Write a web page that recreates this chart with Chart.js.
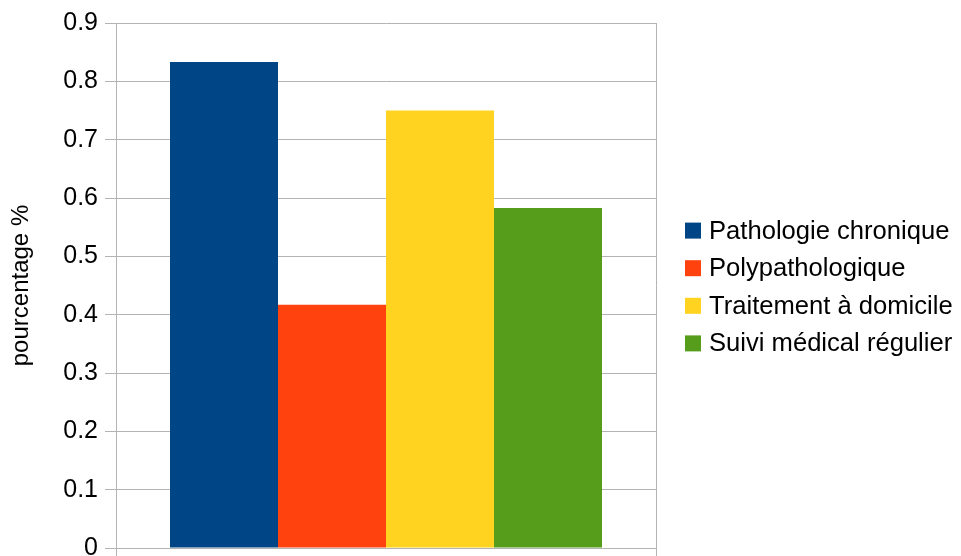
<!DOCTYPE html>
<html lang="fr">
<head>
<meta charset="utf-8">
<title>pourcentage %</title>
<script src="https://cdn.jsdelivr.net/npm/chart.js@4/dist/chart.umd.min.js"></script>
<style>
  html, body { margin: 0; padding: 0; overflow: hidden; background: #ffffff; }
  #wrap { position: relative; width: 961px; height: 600px; }
</style>
</head>
<body>
<div id="wrap"><canvas id="chart"></canvas></div>
<script>
// Chart data
const categories = [''];
const seriesLabels = ['Pathologie chronique', 'Polypathologique', 'Traitement à domicile', 'Suivi médical régulier'];
const seriesValues = [0.833, 0.417, 0.75, 0.583];
const seriesColors = ['#004586', '#ff420e', '#ffd320', '#579d1c'];
const yTickLabels = ['0', '0.1', '0.2', '0.3', '0.4', '0.5', '0.6', '0.7', '0.8', '0.9'];
const yTitle = 'pourcentage %';

const FONT = "'Liberation Sans', Arial, sans-serif";
const GRID = '#b3b3b3';

// Legend drawn to the right of the plot, vertically centred on it
const sideLegend = {
  id: 'sideLegend',
  afterDraw(chart) {
    const { ctx, chartArea } = chart;
    const n = chart.data.datasets.length;
    const rowH = 37.6;
    const midY = (chartArea.top + chartArea.bottom) / 2 + 1.5;
    ctx.save();
    ctx.font = '25.6px ' + FONT;
    ctx.textBaseline = 'middle';
    ctx.textAlign = 'left';
    chart.data.datasets.forEach((ds, i) => {
      const y = midY + (i - (n - 1) / 2) * rowH;
      ctx.fillStyle = ds.backgroundColor;
      ctx.fillRect(chartArea.right + 29, y - 8, 16, 16);
      ctx.fillStyle = '#000000';
      ctx.fillText(ds.label, chartArea.right + 53, y + 1);
    });
    ctx.restore();
  }
};

new Chart(document.getElementById('chart'), {
  type: 'bar',
  data: {
    labels: categories,
    datasets: seriesLabels.map((label, i) => ({
      label,
      data: [seriesValues[i]],
      backgroundColor: seriesColors[i],
      borderWidth: 0
    }))
  },
  options: {
    responsive: true,
    maintainAspectRatio: false,
    animation: false,
    devicePixelRatio: 1,
    categoryPercentage: 0.8,
    barPercentage: 1.0,
    layout: { padding: { top: 23, right: 305, left: 0, bottom: 0 } },
    plugins: {
      legend: { display: false },
      tooltip: { enabled: false }
    },
    scales: {
      x: {
        offset: true,
        grid: { offset: true, color: GRID, lineWidth: 1, drawTicks: true, tickLength: 10 },
        border: { color: GRID, width: 1 },
        ticks: { display: false },
        afterFit(scale) { scale.height = 52; }
      },
      y: {
        min: 0,
        max: 0.9,
        grid: { color: GRID, lineWidth: 1, drawTicks: true, tickLength: 11 },
        border: { color: GRID, width: 1 },
        ticks: {
          stepSize: 0.1,
          padding: 7,
          color: '#000000',
          font: { family: FONT, size: 25 },
          callback: (v, i) => yTickLabels[i]
        },
        title: {
          display: true,
          text: yTitle,
          color: '#000000',
          font: { family: FONT, size: 24 },
          padding: { top: 7, bottom: 0 }
        },
        afterFit(scale) { scale.width = 116; }
      }
    }
  },
  plugins: [sideLegend]
});
</script>
</body>
</html>
